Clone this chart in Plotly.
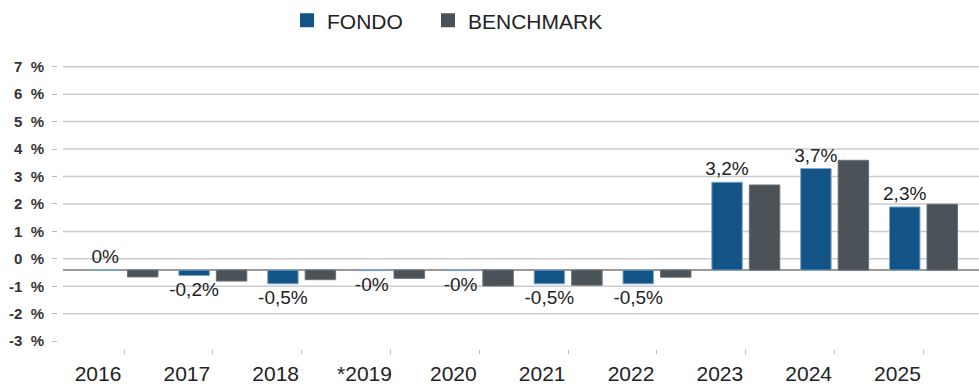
import plotly.graph_objects as go

# Annual returns (%) of the fund and its benchmark
years = ["2016", "2017", "2018", "*2019", "2020", "2021", "2022", "2023", "2024", "2025"]
fondo = [0.0, -0.2, -0.5, -0.02, -0.02, -0.5, -0.5, 3.2, 3.7, 2.3]
benchmark = [-0.25, -0.4, -0.35, -0.3, -0.58, -0.55, -0.26, 3.1, 4.0, 2.4]

# Percentage tick labels on the value axis
tick_values = [-3, -2, -1, 0, 1, 2, 3, 4, 5, 6, 7]
tick_labels = [f"{v}\u00a0\u00a0%" for v in tick_values]
# The scale labels sit slightly above the bars' own zero line
tick_shift = 0.41

FONT = "Liberation Sans, Arial, sans-serif"
BLUE = "#135487"
GREY = "#4b5258"


def pct_label(v):
    s = f"{v:.1f}".rstrip("0").rstrip(".")
    return s.replace(".", ",") + "%"


fig = go.Figure()

fig.add_trace(go.Bar(
    x=list(range(len(years))), y=fondo, name="FONDO",
    marker=dict(color=BLUE, line=dict(color="#7fa6c8", width=1)),
    text=[pct_label(v) for v in fondo], textposition="outside",
    constraintext="none",
    textfont=dict(family=FONT, size=19, color="#222222"),
    cliponaxis=False, showlegend=False,
))
fig.add_trace(go.Bar(
    x=list(range(len(years))), y=benchmark, name="BENCHMARK",
    marker=dict(color=GREY, line=dict(color="#6a7077", width=1)),
    showlegend=False,
))

# Legend entries with larger square swatches, one legend box per series
for name, col, leg in (("FONDO", BLUE, "legend"), ("BENCHMARK", GREY, "legend2")):
    fig.add_trace(go.Scatter(
        x=[None], y=[None], mode="markers", name=name, legend=leg,
        marker=dict(symbol="square", size=14, color=col),
    ))

# Horizontal grid lines (none at the lowest label)
plot_left, plot_right = 58, 979
grid_start = (63 - plot_left) / (plot_right - plot_left)
for v in tick_values[1:]:
    fig.add_shape(type="line", xref="paper", yref="y",
                  x0=grid_start, x1=1, y0=v + tick_shift, y1=v + tick_shift,
                  line=dict(color="#cccccc", width=1.5), layer="below")

# Zero line of the bars
fig.add_shape(type="line", xref="paper", yref="y",
              x0=grid_start, x1=1, y0=0, y1=0,
              line=dict(color="#9a9a9a", width=2), layer="below")


def px_to_paper(px):
    return (px - plot_left) / (plot_right - plot_left)


legend_style = dict(
    orientation="h", xanchor="left", y=1.098, yanchor="middle",
    font=dict(family=FONT, size=21, color="#222222"),
    bgcolor="rgba(0,0,0,0)",
)

fig.update_layout(
    width=979, height=385,
    margin=dict(l=58, r=0, t=50, b=30),
    paper_bgcolor="white", plot_bgcolor="white",
    barmode="group", bargap=0.156, bargroupgap=0.187,
    font=dict(family=FONT, color="#222222"),
    legend=dict(x=px_to_paper(287), **legend_style),
    legend2=dict(x=px_to_paper(428), **legend_style),
    xaxis=dict(
        range=[-0.743, 9.625],
        tickmode="array", tickvals=list(range(len(years))), ticktext=years,
        ticks="outside", ticklen=4, tickcolor="#bbbbbb", tickwidth=1,
        ticklabelshift=-26, ticklabelstandoff=2,
        tickfont=dict(family=FONT, size=21, color="#222222"),
        showgrid=False, zeroline=False, showline=False,
    ),
    yaxis=dict(
        range=[-2.875, 8.018],
        tickmode="array", tickvals=[v + tick_shift for v in tick_values],
        ticktext=tick_labels,
        ticks="outside", ticklen=5, tickcolor="#bbbbbb", tickwidth=1,
        ticklabelstandoff=5,
        tickfont=dict(family=FONT, size=15, color="#333333", weight="bold"),
        showgrid=False, zeroline=False, showline=False,
    ),
    separators=",.",
)

fig.write_html("out.html")
